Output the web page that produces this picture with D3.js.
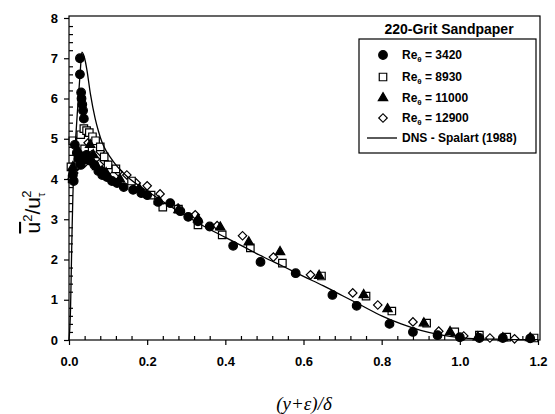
<!DOCTYPE html>
<meta charset="utf-8">
<style>
body { margin: 0; background: #fff; }
.tick text { font: bold 13px "Liberation Sans", Arial, sans-serif; fill: #000; }
.axis path, .axis line { stroke: #000; stroke-width: 1.2px; }
.dns { fill: none; stroke: #000; stroke-width: 1.3px; }
.mk { stroke: #000; stroke-width: 1.2px; }
.leg { font: bold 12px "Liberation Sans", Arial, sans-serif; fill: #000; }
</style>
<svg width="555" height="414"></svg>
<script src="https://d3js.org/d3.v7.min.js"></script>
<script>
// DNS - Spalart (1988)
var dnsX = [0, 0.004, 0.006, 0.008, 0.01, 0.013, 0.017, 0.021, 0.025, 0.029, 0.033, 0.04, 0.046, 0.055, 0.067, 0.075, 0.085, 0.095, 0.105, 0.12, 0.15, 0.2, 0.25, 0.3, 0.35, 0.4, 0.45, 0.5, 0.55, 0.6, 0.65, 0.7, 0.75, 0.8, 0.85, 0.9, 0.95, 1.0, 1.05, 1.1, 1.15, 1.2];
var dnsY = [0, 0.8, 1.8, 2.8, 3.6, 4.4, 5.0, 5.6, 6.15, 6.7, 7.15, 7.0, 6.7, 6.1, 5.5, 5.2, 4.9, 4.7, 4.55, 4.35, 4.05, 3.7, 3.38, 3.08, 2.8, 2.55, 2.3, 2.05, 1.82, 1.58, 1.35, 1.1, 0.85, 0.6, 0.4, 0.24, 0.13, 0.06, 0.03, 0.02, 0.01, 0.01];

// Re_theta = 3420 (filled circles)
var c3420X = [0.028, 0.028, 0.031, 0.032, 0.034, 0.036, 0.038, 0.015, 0.02, 0.024, 0.03, 0.035, 0.045, 0.055, 0.065, 0.075, 0.085, 0.01, 0.012, 0.097, 0.11, 0.123, 0.14, 0.164, 0.185, 0.2, 0.228, 0.259, 0.285, 0.305, 0.33, 0.36, 0.42, 0.49, 0.58, 0.674, 0.736, 0.82, 0.88, 0.943, 1.0, 1.05, 1.11, 1.18];
var c3420Y = [7.0, 6.6, 6.15, 6.0, 5.85, 5.7, 5.5, 4.85, 4.65, 4.5, 4.35, 4.55, 4.6, 4.45, 4.35, 4.2, 4.1, 4.1, 3.95, 4.05, 3.95, 3.9, 3.8, 3.73, 3.65, 3.6, 3.43, 3.4, 3.2, 3.06, 2.95, 2.82, 2.34, 1.94, 1.66, 1.12, 0.85, 0.4, 0.2, 0.12, 0.07, 0.05, 0.05, 0.04];

// Re_theta = 8930 (open squares)
var s8930X = [0.005, 0.008, 0.01, 0.03, 0.038, 0.045, 0.052, 0.06, 0.068, 0.04, 0.08, 0.09, 0.1, 0.12, 0.16, 0.21, 0.24, 0.28, 0.33, 0.392, 0.464, 0.546, 0.646, 0.76, 0.826, 0.915, 0.987, 1.05, 1.12, 1.19];
var s8930Y = [4.3, 4.0, 4.95, 5.1, 5.25, 5.2, 5.15, 5.05, 4.95, 4.75, 4.8, 4.55, 4.35, 4.25, 3.95, 3.6, 3.3, 3.25, 2.86, 2.61, 2.29, 1.91, 1.59, 1.09, 0.72, 0.42, 0.2, 0.12, 0.07, 0.05];

// Re_theta = 11000 (filled triangles)
var t11000X = [0.01, 0.023, 0.033, 0.045, 0.054, 0.062, 0.072, 0.085, 0.095, 0.13, 0.18, 0.23, 0.28, 0.33, 0.387, 0.46, 0.54, 0.64, 0.754, 0.815, 0.908, 0.975, 1.046, 1.11, 1.18];
var t11000Y = [4.3, 4.7, 4.55, 4.45, 4.85, 4.6, 4.3, 4.2, 4.15, 4.0, 3.75, 3.45, 3.23, 3.0, 2.8, 2.43, 2.19, 1.6, 1.12, 0.77, 0.42, 0.2, 0.07, 0.05, 0.05];

// Re_theta = 12900 (open diamonds)
var d12900X = [0.008, 0.012, 0.02, 0.03, 0.04, 0.049, 0.058, 0.068, 0.08, 0.09, 0.105, 0.126, 0.148, 0.172, 0.2, 0.233, 0.279, 0.323, 0.379, 0.444, 0.523, 0.618, 0.726, 0.79, 0.88, 0.946, 1.01, 1.077, 1.14];
var d12900Y = [4.0, 4.15, 4.3, 4.45, 4.4, 4.9, 4.6, 4.5, 4.68, 4.45, 4.23, 4.18, 4.1, 3.9, 3.83, 3.63, 3.28, 3.11, 2.84, 2.59, 2.06, 1.62, 1.17, 0.87, 0.45, 0.22, 0.1, 0.05, 0.03];

var xMajor = [0, 0.2, 0.4, 0.6, 0.8, 1.0, 1.2];
var yMajor = [0, 1, 2, 3, 4, 5, 6, 7, 8];
var legendLabels = ["3420", "8930", "11000", "12900"];

var svg = d3.select("svg");
var x = d3.scaleLinear().domain([0, 1.2]).range([69, 538]);
var y = d3.scaleLinear().domain([0, 8]).range([340, 18]);

function zip(xs, ys) { return xs.map(function(v, i) { return [v, ys[i]]; }); }

// frame
svg.append("rect").attr("x", x(0)).attr("y", 16).attr("width", x(1.2) + 2 - x(0)).attr("height", y(0) - 16)
  .attr("fill", "none").attr("stroke", "#000").attr("stroke-width", 1.2);

// x axis: major outside with labels, minor inside
var minorX = d3.range(0, 1.2001, 0.04).filter(function(v) { return Math.abs(v / 0.2 - Math.round(v / 0.2)) > 1e-6; });
svg.append("g").attr("class", "axis").attr("transform", "translate(0," + y(0) + ")")
  .call(d3.axisBottom(x).tickValues(xMajor).tickSize(5).tickPadding(12).tickFormat(d3.format(".1f")))
  .call(function(g) { g.select(".domain").remove(); });
svg.append("g").attr("class", "axis").attr("transform", "translate(0," + y(0) + ")")
  .call(d3.axisTop(x).tickValues(minorX).tickSize(4).tickFormat(""))
  .call(function(g) { g.select(".domain").remove(); });

var minorY = d3.range(0, 8.001, 0.2).filter(function(v) { return Math.abs(v - Math.round(v)) > 1e-6; });
svg.append("g").attr("class", "axis").attr("transform", "translate(" + x(0) + ",0)")
  .call(d3.axisLeft(y).tickValues(yMajor).tickSize(5).tickPadding(6))
  .call(function(g) { g.select(".domain").remove(); });
svg.append("g").attr("class", "axis").attr("transform", "translate(" + x(0) + ",0)")
  .call(d3.axisRight(y).tickValues(minorY).tickSize(4).tickFormat(""))
  .call(function(g) { g.select(".domain").remove(); });

// markers
var sq = d3.symbol().type(d3.symbolSquare).size(56);
var tri = d3.symbol().type(d3.symbolTriangle).size(38);
var dia = d3.symbol().type(d3.symbolSquare).size(36); // rotated below

function drawSym(data, gen, fill, rot) {
  svg.append("g").selectAll("path").data(data).enter().append("path")
    .attr("class", "mk")
    .attr("transform", function(d) { return "translate(" + x(d[0]) + "," + y(d[1]) + ")" + (rot ? " rotate(45)" : ""); })
    .attr("d", gen)
    .attr("fill", fill);
}
drawSym(zip(d12900X, d12900Y), dia, "#fff", true);
drawSym(zip(s8930X, s8930Y), sq, "#fff");
drawSym(zip(t11000X, t11000Y), tri, "#000");
svg.append("g").selectAll("circle").data(zip(c3420X, c3420Y)).enter().append("circle")
  .attr("class", "mk").attr("cx", function(d) { return x(d[0]); }).attr("cy", function(d) { return y(d[1]); })
  .attr("r", 4.3).attr("fill", "#000");

// DNS line
var line = d3.line().x(function(d) { return x(d[0]); }).y(function(d) { return y(d[1]); }).curve(d3.curveMonotoneX);
svg.append("path").attr("class", "dns").attr("d", line(zip(dnsX, dnsY)));

// title + legend
svg.append("text").attr("x", 449).attr("y", 34).attr("text-anchor", "middle")
  .style("font", "bold 14px 'Liberation Sans', Arial, sans-serif").text("220-Grit Sandpaper");
svg.append("rect").attr("x", 359).attr("y", 39).attr("width", 177).attr("height", 114)
  .attr("fill", "#fff").attr("stroke", "#000").attr("stroke-width", 1.2);

var legY = [55, 77, 98, 118, 138];
var legSym = [null, sq, tri, dia];
legendLabels.forEach(function(lab, i) {
  if (i === 0) {
    svg.append("circle").attr("class", "mk").attr("cx", 383).attr("cy", legY[i]).attr("r", 4.3).attr("fill", "#000");
  } else {
    svg.append("path").attr("class", "mk").attr("transform", "translate(383," + legY[i] + ")" + (i === 3 ? " rotate(45)" : ""))
      .attr("d", legSym[i]).attr("fill", i === 2 ? "#000" : "#fff");
  }
  var t = svg.append("text").attr("class", "leg").attr("x", 402).attr("y", legY[i] + 4);
  t.append("tspan").text("Re");
  t.append("tspan").attr("dy", 3).style("font-size", "8px").text("θ");
  t.append("tspan").attr("dy", -3).text(" = " + lab);
});
svg.append("line").attr("x1", 367).attr("x2", 397).attr("y1", legY[4]).attr("y2", legY[4]).attr("stroke", "#000").attr("stroke-width", 1.3);
svg.append("text").attr("class", "leg").attr("x", 402).attr("y", legY[4] + 4).text("DNS - Spalart (1988)");

// axis titles
svg.append("text").attr("x", 304).attr("y", 410).attr("text-anchor", "middle")
  .style("font", "italic 19px 'Liberation Serif', 'Times New Roman', serif").text("(y+ε)/δ");

var yl = svg.append("g").attr("transform", "translate(40,212) rotate(-90)");
var yt = yl.append("text").attr("text-anchor", "middle")
  .style("font", "21px 'Liberation Sans', Arial, sans-serif");
yt.append("tspan").style("text-decoration", "overline").text("u");
yt.append("tspan").attr("dy", -8).style("font-size", "13px").text("2");
yt.append("tspan").attr("dy", 8).text("/u");
yt.append("tspan").attr("dy", 5).style("font-size", "11px").text("τ");
yt.append("tspan").attr("dx", -5).attr("dy", -14).style("font-size", "13px").text("2");
</script>
